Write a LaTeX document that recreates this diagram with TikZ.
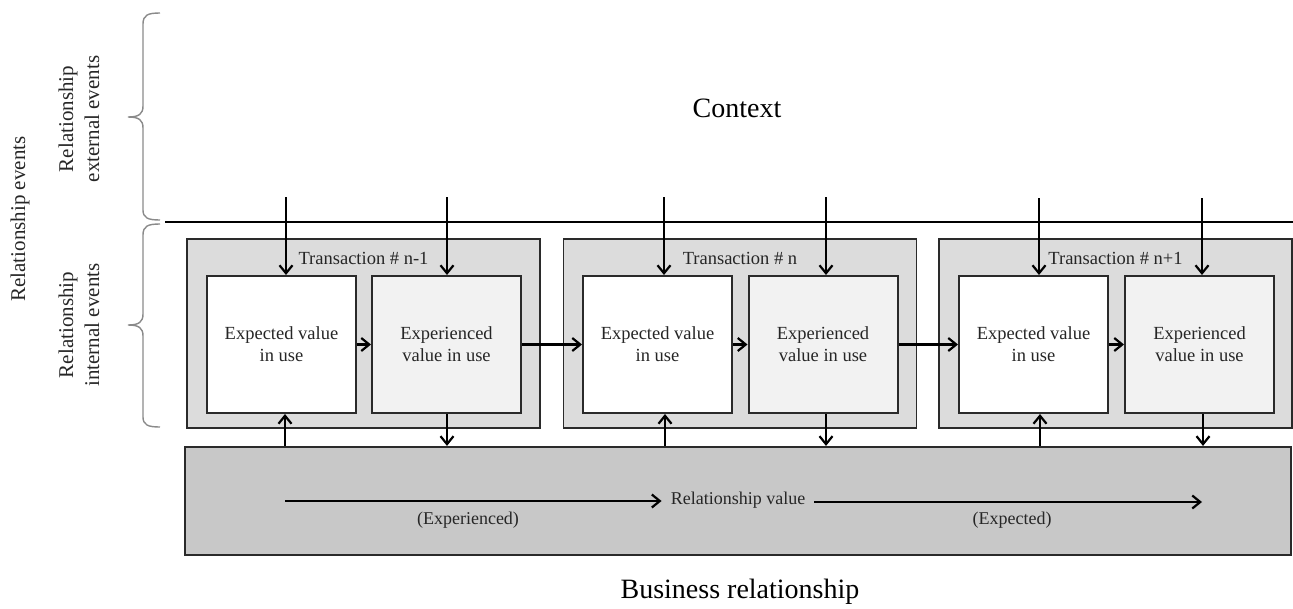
\documentclass[tikz,border=0pt]{standalone}
\usepackage{fontspec}
\setmainfont{Liberation Serif}
\usetikzlibrary{arrows.meta}
\definecolor{outerfill}{HTML}{DCDCDC}
\definecolor{expfill}{HTML}{F2F2F2}
\definecolor{bbfill}{HTML}{C8C8C8}
\definecolor{bordc}{HTML}{2A2A2A}
\definecolor{txtc}{HTML}{262626}
\definecolor{bracec}{HTML}{8A8A8A}
\tikzset{
  outerbox/.style={draw=bordc, line width=1.5pt, fill=outerfill, minimum width=353pt, minimum height=189pt, inner sep=0pt},
  expbox/.style={draw=bordc, line width=2pt, fill=white, minimum width=149pt, minimum height=137pt, inner sep=0pt, align=center, text=txtc, font=\fontsize{18.5}{22}\selectfont},
  expcbox/.style={expbox, fill=expfill},
  translabel/.style={text=txtc, font=\fontsize{18.5}{22}\selectfont, inner sep=0pt},
  arr/.style={-{Straight Barb[length=8pt,width=13pt]}, line width=2.2pt, black},
  sidetext/.style={rotate=90, align=center, text=txtc, font=\fontsize{21}{26}\selectfont},
  bigtext/.style={font=\fontsize{28}{32}\selectfont, text=black},
  smalltext/.style={font=\fontsize{18}{20}\selectfont, text=txtc},
  bracestyle/.style={draw=bracec, line width=1.4pt}
}
\begin{document}
\begin{tikzpicture}[x=1pt,y=-1pt]
\useasboundingbox (0,0) rectangle (1293,608);

% context
\node[bigtext] (ctx) at (737,108) {Context};

% braces
\draw[bracestyle] (160,13) .. controls (148,13) and (143,15) .. (143,24) -- (143,106)
  .. controls (143,114) and (139,117) .. (128,117)
  .. controls (139,117) and (143,120) .. (143,128) -- (143,210)
  .. controls (143,218) and (148,220) .. (160,220);
\draw[bracestyle] (160,224) .. controls (148,224) and (143,226) .. (143,235) -- (143,314)
  .. controls (143,322) and (139,325) .. (128,325)
  .. controls (139,325) and (143,328) .. (143,336) -- (143,417)
  .. controls (143,425) and (148,427) .. (160,427);

% side texts
\node[sidetext] (relev) at (20,219) {Relationship events};
\node[sidetext] (relext) at (79,119) {Relationship\\external events};
\node[sidetext] (relint) at (79,325) {Relationship\\internal events};

% boundary line
\coordinate (hl1) at (165,222);
\coordinate (hl2) at (1293,222);
\draw[line width=2.2pt, black] (hl1) -- (hl2);

% bottom box
\node[draw=bordc, line width=2.2pt, fill=bbfill, minimum width=1106pt, minimum height=108pt, inner sep=0pt] (bb) at (738,501) {};

% transactions
\node[outerbox] (t1) at (363.5,333.5) {};
\node[outerbox] (t2) at (740,333.5) {};
\node[outerbox] (t3) at (1115.5,333.5) {};
\node[translabel] (l1) at (363.5,258) {Transaction \# n-1};
\node[translabel] (l2) at (740,258) {Transaction \# n};
\node[translabel] (l3) at (1115.5,258) {Transaction \# n+1};

\node[expbox] (e1) at (281.5,344.5) {Expected value\\in use};
\node[expcbox] (x1) at (446.5,344.5) {Experienced\\value in use};
\node[expbox] (e2) at (657.5,344.5) {Expected value\\in use};
\node[expcbox] (x2) at (823,344.5) {Experienced\\value in use};
\node[expbox] (e3) at (1033.5,344.5) {Expected value\\in use};
\node[expcbox] (x3) at (1199.5,344.5) {Experienced\\value in use};

% top incoming arrows
\coordinate (ta1) at (286,197);
\coordinate (tb1) at (447,197);
\coordinate (ta2) at (664,197);
\coordinate (tb2) at (826,197);
\coordinate (ta3) at (1039,198);
\coordinate (tb3) at (1202,198);
\draw[arr] (ta1) -- (ta1 |- e1.north);
\draw[arr] (tb1) -- (tb1 |- x1.north);
\draw[arr] (ta2) -- (ta2 |- e2.north);
\draw[arr] (tb2) -- (tb2 |- x2.north);
\draw[arr] (ta3) -- (ta3 |- e3.north);
\draw[arr] (tb3) -- (tb3 |- x3.north);

% horizontal arrows
\draw[arr] (e1.east) -- (x1.west);
\draw[arr] (x1.east) -- (e2.west);
\draw[arr] (e2.east) -- (x2.west);
\draw[arr] (x2.east) -- (e3.west);
\draw[arr] (e3.east) -- (x3.west);

% up arrows from bottom box
\coordinate (ua1) at (285,447);
\coordinate (ua2) at (665,447);
\coordinate (ua3) at (1040,447);
\draw[arr] (ua1 |- bb.north) -- (ua1 |- e1.south);
\draw[arr] (ua2 |- bb.north) -- (ua2 |- e2.south);
\draw[arr] (ua3 |- bb.north) -- (ua3 |- e3.south);

% down arrows to bottom box
\coordinate (da1) at (447,413);
\coordinate (da2) at (826,413);
\coordinate (da3) at (1203,413);
\draw[arr] (da1 |- x1.south) -- (da1 |- bb.north);
\draw[arr] (da2 |- x2.south) -- (da2 |- bb.north);
\draw[arr] (da3 |- x3.south) -- (da3 |- bb.north);

% relationship value
\node[smalltext, inner xsep=9pt, inner ysep=2pt] (rv) at (738,500) {Relationship value};
\coordinate (rs) at (285,501);
\coordinate (re) at (1202,502);
\draw[arr] (rs) -- (rs -| rv.west);
\draw[arr] (rv.east |- re) -- (re);
\node[smalltext] (exper) at (468,520) {(Experienced)};
\node[smalltext] (expec) at (1012,520) {(Expected)};

\node[bigtext] (busrel) at (740,592) {Business relationship};
\end{tikzpicture}
\end{document}
